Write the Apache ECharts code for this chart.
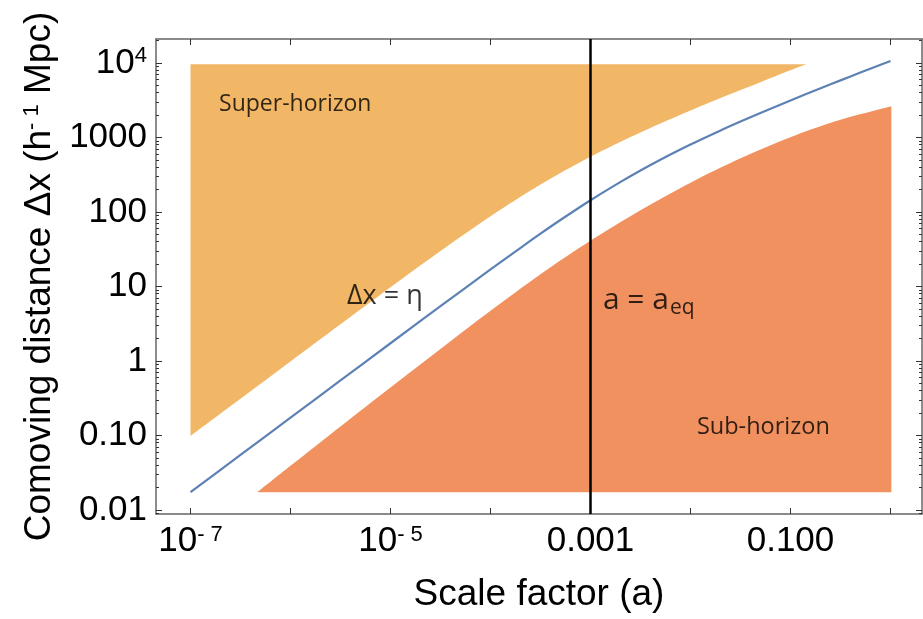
<!DOCTYPE html>
<html>
<head>
<meta charset="utf-8">
<script src="https://cdn.jsdelivr.net/npm/echarts@6/dist/echarts.min.js"></script>
<style>html,body{margin:0;padding:0;background:#fff;}#c{width:923px;height:619px;}</style>
</head>
<body>
<div id="c"></div>
<script>
// ---- data ----
const etaA = [1e-7, 3.16e-7, 1e-6, 3.16e-6, 1e-5, 3.16e-5, 1e-4, 2e-4, 3.16e-4, 5e-4, 1e-3, 2e-3, 3.16e-3, 5e-3, 1e-2, 2e-2, 3.16e-2, 5e-2, 0.1, 0.2, 0.316, 0.5, 1.0];
const etaV = [0.0173, 0.0547, 0.173, 0.5465, 1.727, 5.43, 16.9, 33.0, 51.0, 77.8, 143.4, 253, 360, 502, 802, 1240, 1631, 2126, 3133, 4562, 5817, 7402, 10606];

const superA = [1e-7, 3.16e-7, 1e-6, 3.16e-6, 1e-5, 3.16e-5, 1e-4, 2e-4, 3.16e-4, 5e-4, 1e-3, 2e-3, 3.16e-3, 5e-3, 1e-2, 2e-2, 3.16e-2, 5e-2, 0.1, 0.143];
const superLow = [0.0986, 0.311, 0.985, 3.10, 9.73, 29.9, 87.6, 160, 233, 333, 550, 873, 1163, 1534, 2290, 3366, 4311, 5508, 7926, 9550];
const superTop = 9550;

const subA = [4.66e-7, 1e-6, 3.16e-6, 1e-5, 3.16e-5, 1e-4, 3.16e-4, 1e-3, 3.16e-3, 1e-2, 3.16e-2, 0.1, 0.316, 1.0, 1.02];
const subTop = [0.0173, 0.0391, 0.132, 0.440, 1.45, 4.71, 14.6, 41.0, 105, 247, 525, 1007, 1720, 2588, 2604];
const subBottom = 0.0173;

const aEq = 0.001;

const xTickValues = [1e-7, 1e-6, 1e-5, 1e-4, 1e-3, 1e-2, 1e-1, 1];
const xLabelValues = [1e-7, 1e-5, 1e-3, 0.1];
const xLabelTexts = ['10^-7', '10^-5', '0.001', '0.100'];
const yTickValues = [0.01, 0.1, 1, 10, 100, 1000, 10000];
const yLabelTexts = ['0.01', '0.10', '1', '10', '100', '1000', '10^4'];

const annoTexts = ['Super-horizon', 'Sub-horizon', '\u0394x = \u03b7', 'a = a_eq'];
const annoA = [1.93e-7, 0.0116, 3.67e-6, 1.33e-3];
const annoY = [2780, 0.130, 7.41, 6.55];

// ---- helpers ----
const xMin = Math.pow(10, -7.345), xMax = Math.pow(10, 0.315);
const yMin = Math.pow(10, -2.054), yMax = Math.pow(10, 4.32);
const yMinor = [];
for (let e = -3; e <= 4; e++) for (let m = 2; m <= 9; m++) { const v = m * Math.pow(10, e); if (v > yMin && v < yMax) yMinor.push(v); }

function toRich(t) {
  const p = t.split('^');
  return p.length > 1 ? '{b|' + p[0] + '}{s|' + p[1].replace('-', '- ') + '}' : '{b|' + t + '}';
}
function lookup(vals, texts, v) {
  let best = 0, d = 1e9;
  vals.forEach((x, i) => { const dd = Math.abs(Math.log10(x) - Math.log10(v)); if (dd < d) { d = dd; best = i; } });
  return d < 1e-6 ? toRich(texts[best]) : '';
}
const FONT = 'Liberation Sans';
const tickRich = {
  b: { fontSize: 35, fontFamily: FONT, color: '#000' },
  s: { fontSize: 22, fontFamily: FONT, color: '#000', verticalAlign: 'top', lineHeight: 22 }
};
const lineCol = '#666';
const tickCol = '#333';

function xAxisDef(pos, labels) {
  return {
    type: 'log', position: pos, min: xMin, max: xMax,
    axisLine: { show: true, onZero: false, lineStyle: { color: lineCol, width: 1.5 } },
    axisTick: { show: true, inside: true, length: 6, customValues: xTickValues, lineStyle: { color: tickCol, width: 1 } },
    minorTick: { show: false },
    splitLine: { show: false },
    axisLabel: labels ? {
      show: true, margin: 10, customValues: xLabelValues,
      formatter: v => lookup(xLabelValues, xLabelTexts, v), rich: tickRich
    } : { show: false },
    name: labels ? 'Scale factor (a)' : '', nameLocation: 'middle', nameGap: 62,
    nameTextStyle: { fontSize: 37, fontFamily: FONT, color: '#000' }
  };
}
function yAxisDef(pos, major, labels) {
  return {
    type: 'log', position: pos, min: yMin, max: yMax,
    axisLine: { show: major, onZero: false, lineStyle: { color: lineCol, width: 1.5 } },
    axisTick: { show: true, inside: true, length: major ? 6 : 3, customValues: major ? yTickValues : yMinor, lineStyle: { color: tickCol, width: 1 } },
    splitLine: { show: false },
    axisLabel: labels ? {
      show: true, margin: 9, customValues: yTickValues, align: 'right',
      formatter: v => lookup(yTickValues, yLabelTexts, v), rich: tickRich
    } : { show: false },
    name: labels ? 'Comoving distance \u0394x (h{s|- 1} Mpc)' : '',
    nameLocation: 'middle', nameGap: 95, nameRotate: 90,
    nameTextStyle: { fontSize: 37, fontFamily: FONT, color: '#000',
      rich: { s: { fontSize: 22, fontFamily: FONT, color: '#000', verticalAlign: 'top', lineHeight: 22 } } }
  };
}

const annoFont = 'Open Sans';
const annoSizes = [23, 23.5, 27, 30];
const annoData = annoTexts.map((t, i) => {
  let fmt = t, rich = {};
  if (t.indexOf('_') >= 0) {
    const p = t.split('_');
    fmt = '{m|' + p[0] + '}{u|' + p[1] + '}';
    rich = { m: { fontSize: annoSizes[i], fontFamily: annoFont, color: '#000' },
             u: { fontSize: 21, fontFamily: annoFont, color: '#000', verticalAlign: 'bottom', padding: [16, 0, 0, 1] } };
  }
  return { value: [annoA[i], annoY[i]],
    label: { formatter: fmt, rich: rich, fontSize: annoSizes[i] } };
});

const chart = echarts.init(document.getElementById('c'), null, { renderer: 'canvas' });
chart.setOption({
  animation: false,
  backgroundColor: '#fff',
  grid: { left: 156, right: 1, top: 39, bottom: 105, containLabel: false },
  xAxis: [xAxisDef('bottom', true), xAxisDef('top', false)],
  yAxis: [yAxisDef('left', true, true), yAxisDef('left', false, false), yAxisDef('right', true, false), yAxisDef('right', false, false)],
  series: [
    { type: 'line', name: 'super', xAxisIndex: 0, yAxisIndex: 0, smooth: 0.3, showSymbol: false,
      data: superA.map((a, i) => [a, superLow[i]]),
      lineStyle: { width: 0 }, areaStyle: { color: '#F1B767', opacity: 1, origin: superTop }, z: 1 },
    { type: 'line', name: 'sub', xAxisIndex: 0, yAxisIndex: 0, smooth: 0.3, showSymbol: false,
      data: subA.map((a, i) => [a, subTop[i]]),
      lineStyle: { width: 0 }, areaStyle: { color: '#F1915F', opacity: 1, origin: subBottom }, z: 1 },
    { type: 'line', name: 'eta', xAxisIndex: 0, yAxisIndex: 0, smooth: 0.3, showSymbol: false,
      data: etaA.map((a, i) => [a, etaV[i]]),
      lineStyle: { color: '#5E81B5', width: 2.2 }, z: 3 },
    { type: 'line', name: 'aeq', xAxisIndex: 0, yAxisIndex: 0, showSymbol: false,
      data: [[aEq, yMin], [aEq, yMax]],
      lineStyle: { color: '#000', width: 2.5 }, z: 4 },
    { type: 'scatter', xAxisIndex: 0, yAxisIndex: 0, symbolSize: 0, z: 5,
      label: { show: true, position: 'right', distance: 0, color: '#000', fontFamily: annoFont },
      data: annoData }
  ]
});
</script>
</body>
</html>
